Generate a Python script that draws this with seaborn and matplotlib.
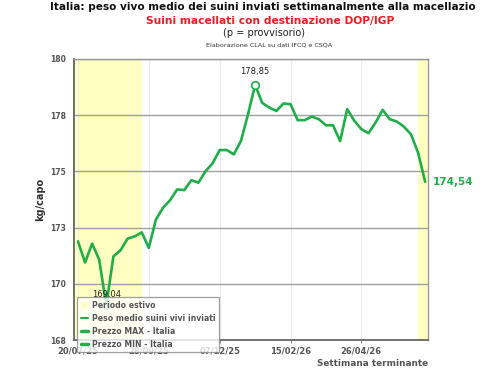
import numpy as np
import pandas as pd
import matplotlib
matplotlib.use("Agg")
import matplotlib.pyplot as plt
import seaborn as sns
from matplotlib.lines import Line2D
from matplotlib.patches import Patch

# ---------------- data ----------------
weeks = list(range(50))
peso = [171.89, 170.95, 171.79, 171.07, 169.04, 171.22, 171.49, 172.01, 172.11, 172.29,
        171.60, 172.86, 173.38, 173.72, 174.20, 174.17, 174.61, 174.50, 175.01, 175.36,
        175.95, 175.95, 175.76, 176.35, 177.54, 178.85, 178.05, 177.84, 177.69, 178.02,
        177.99, 177.28, 177.28, 177.44, 177.32, 177.05, 177.05, 176.35, 177.77, 177.25,
        176.88, 176.70, 177.17, 177.74, 177.32, 177.22, 176.99, 176.65, 175.83, 174.54]
xtick_weeks = [0, 10, 20, 30, 40]
xtick_labels = ["20/07/25", "28/09/25", "07/12/25", "15/02/26", "26/04/26"]
ytick_vals = [167.5, 170, 172.5, 175, 177.5, 180]
ytick_labels = ["168", "170", "173", "175", "178", "180"]
summer_spans = [(-0.56, 9.0), (48.0, 49.4)]

df = pd.DataFrame({"week": weeks, "peso": peso})

# ---------------- style ----------------
sns.set_theme(style="white")
plt.rcParams["font.family"] = ["DejaVu Sans"]

GREEN = "#21ad4a"
YELLOW = "#ffffc2"
GRAY = "#555555"

fig = plt.figure(figsize=(5.0, 3.83), dpi=100)
ax = fig.add_axes([0.148, 0.112, 0.708, 0.734])

for a, b in summer_spans:
    ax.axvspan(a, b, color=YELLOW, lw=0, zorder=0)

for v in ytick_vals:
    ax.axhline(v, color="#a0a0a0", lw=1.0, zorder=1)
for w in xtick_weeks:
    ax.axvline(w, color="#ececec", lw=0.8, zorder=0.5)

sns.lineplot(data=df, x="week", y="peso", ax=ax, color=GREEN, lw=1.9,
             zorder=3, solid_joinstyle="round", solid_capstyle="round")

imax = int(np.argmax(peso))
imin = int(np.argmin(peso))
ext = df.iloc[[imax, imin]]
sns.scatterplot(data=ext, x="week", y="peso", ax=ax, s=30, facecolor="white",
                edgecolor=GREEN, linewidth=1.2, zorder=4)

def fmt(v):
    return f"{v:.2f}".replace(".", ",")

ax.text(weeks[imax], peso[imax] + 0.38, fmt(peso[imax]), ha="center", va="bottom",
        fontsize=6, color="#222222", zorder=5)
ax.text(weeks[imin], peso[imin] + 0.3, fmt(peso[imin]), ha="center", va="bottom",
        fontsize=6, color="#222222", zorder=5)

ax.text(1.015, peso[-1], fmt(peso[-1]), transform=ax.get_yaxis_transform(),
        ha="left", va="center", fontsize=7.5, fontweight="bold", color=GREEN)

ax.set_xlim(-0.56, 49.4)
ax.set_ylim(167.5, 180)
ax.set_xticks(xtick_weeks)
ax.set_xticklabels(xtick_labels, fontsize=6, fontweight="bold", color=GRAY)
ax.set_yticks(ytick_vals)
ax.set_yticklabels(ytick_labels, fontsize=5.5, fontweight="bold", color=GRAY)
ax.tick_params(axis="x", length=2.5, width=0.8, color="#888888", pad=2, bottom=True)
ax.tick_params(axis="y", length=0, pad=6)
ax.set_xlabel("Settimana terminante", fontsize=6.4, fontweight="bold", color=GRAY,
              labelpad=0, ha="right")
ax.xaxis.set_label_coords(1.0, -0.068)
ax.set_ylabel("kg/capo", fontsize=7, fontweight="bold", color="#333333", labelpad=3)

for s in ["left", "bottom"]:
    ax.spines[s].set_color("#666666")
    ax.spines[s].set_linewidth(1.3)
for s in ["top", "right"]:
    ax.spines[s].set_color("#999999")
    ax.spines[s].set_linewidth(1.0)

# legend
handles = [
    Patch(facecolor=YELLOW, edgecolor="none"),
    Line2D([0], [0], color=GREEN, lw=1.5),
    Line2D([0], [0], color=GREEN, lw=2.5),
    Line2D([0], [0], color=GREEN, lw=2.5),
]
labels = ["Periodo estivo", "Peso medio suini vivi inviati",
          "Prezzo MAX - Italia", "Prezzo MIN - Italia"]
leg = ax.legend(handles, labels, loc="upper left", bbox_to_anchor=(0.154, 0.2245),
                bbox_transform=fig.transFigure, frameon=True, fontsize=5.6,
                handlelength=0.9, handletextpad=0.5, labelspacing=0.5,
                borderpad=0.5, borderaxespad=0, fancybox=False, framealpha=0.8)
leg.get_frame().set_edgecolor("#888888")
leg.get_frame().set_linewidth(0.9)
for t in leg.get_texts():
    t.set_color(GRAY)
    t.set_fontweight("bold")
leg.set_zorder(6)

# titles
fig.text(0.525, 0.983, "Italia: peso vivo medio dei suini inviati settimanalmente alla macellazio",
         ha="center", va="center", fontsize=7.6, fontweight="bold", color="#111111")
fig.text(0.54, 0.946, "Suini macellati con destinazione DOP/IGP", ha="center", va="center",
         fontsize=7.7, fontweight="bold", color="#ee1c25")
fig.text(0.528, 0.914, "(p = provvisorio)", ha="center", va="center", fontsize=7.0,
         color="#222222")
fig.text(0.538, 0.882, "Elaborazione CLAL su dati IFCQ e CSQA", ha="center", va="center",
         fontsize=4.6, color="#333333")

fig.savefig("out.png", dpi=100, facecolor="white")
